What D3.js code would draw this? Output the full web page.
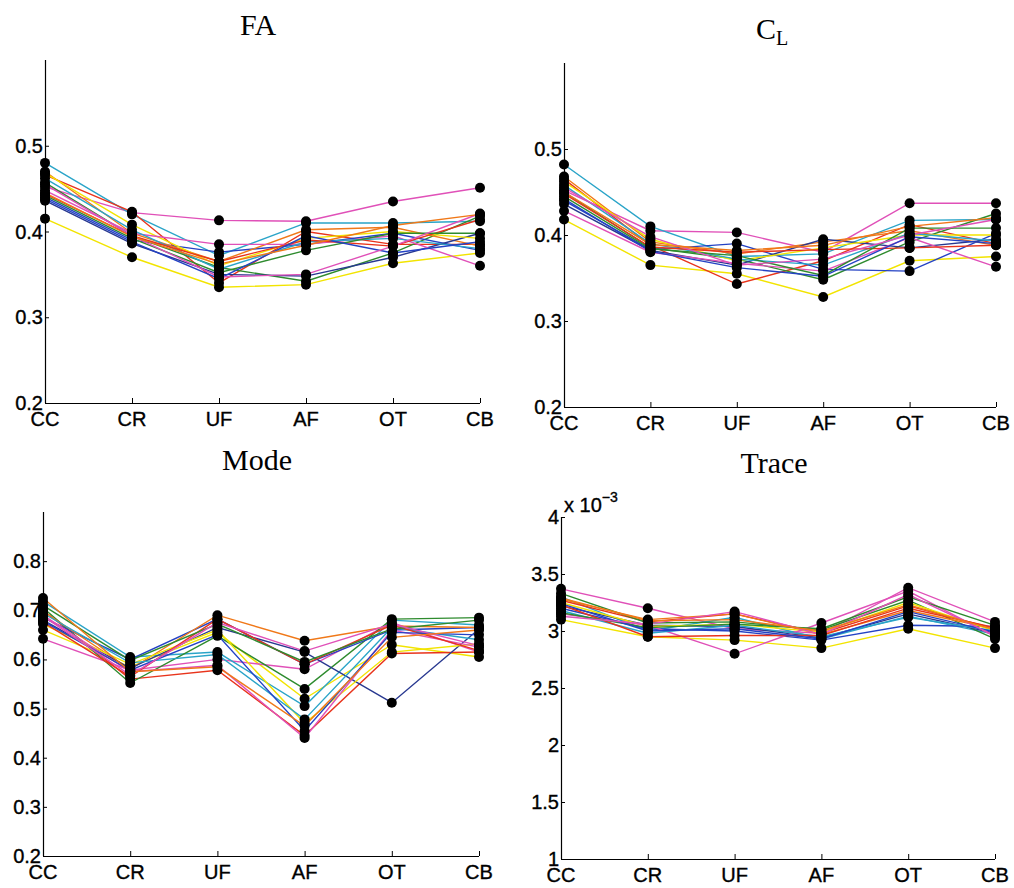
<!DOCTYPE html>
<html>
<head>
<meta charset="utf-8">
<script src="https://cdn.jsdelivr.net/npm/d3@7"></script>
<style>
  html, body { margin: 0; padding: 0; background: #fff; }
  svg { display: block; }
  .tick-label { font-family: "Liberation Sans", Arial, Helvetica, sans-serif; font-size: 20px; fill: #000; stroke: #000; stroke-width: 0.35px; }
  .title { font-family: "Liberation Serif", "Times New Roman", serif; fill: #000; }
</style>
</head>
<body>
<svg id="fig" width="1014" height="888"></svg>
<script>
// Regions along the x axis
const regions = ["CC", "CR", "UF", "AF", "OT", "CB"];

// One colour per subject
const subjectColors = [
  "#f2e400", "#e050b8", "#2aa4c8", "#e8341c", "#2e8b2e", "#2442c4", "#f07818", "#283890",
  "#f2e400", "#e050b8", "#2aa4c8", "#e8341c", "#2e8b2e", "#2442c4", "#e050b8", "#f07818"
];

// Fractional anisotropy per subject: CC, CR, UF, AF, OT, CB
const faValues = [
  [0.415, 0.370, 0.335, 0.338, 0.363, 0.375],
  [0.452, 0.422, 0.413, 0.412, 0.435, 0.451],
  [0.480, 0.420, 0.372, 0.410, 0.410, 0.412],
  [0.466, 0.423, 0.340, 0.400, 0.385, 0.385],
  [0.457, 0.395, 0.358, 0.342, 0.375, 0.418],
  [0.440, 0.390, 0.376, 0.385, 0.398, 0.378],
  [0.470, 0.398, 0.365, 0.402, 0.405, 0.383],
  [0.436, 0.386, 0.350, 0.348, 0.370, 0.398],
  [0.468, 0.408, 0.360, 0.392, 0.400, 0.392],
  [0.448, 0.398, 0.385, 0.385, 0.395, 0.360],
  [0.462, 0.402, 0.356, 0.388, 0.392, 0.380],
  [0.444, 0.395, 0.365, 0.390, 0.383, 0.414],
  [0.442, 0.392, 0.352, 0.378, 0.398, 0.398],
  [0.438, 0.388, 0.345, 0.395, 0.375, 0.388],
  [0.455, 0.395, 0.347, 0.350, 0.383, 0.421],
  [0.445, 0.394, 0.362, 0.384, 0.407, 0.420]
];

// Linear anisotropy C_L per subject
const clValues = [
  [0.418, 0.365, 0.355, 0.328, 0.370, 0.375],
  [0.452, 0.405, 0.403, 0.380, 0.437, 0.437],
  [0.482, 0.410, 0.375, 0.378, 0.417, 0.418],
  [0.465, 0.388, 0.343, 0.370, 0.412, 0.390],
  [0.450, 0.385, 0.372, 0.348, 0.392, 0.425],
  [0.440, 0.383, 0.390, 0.360, 0.358, 0.402],
  [0.468, 0.392, 0.378, 0.392, 0.405, 0.388],
  [0.436, 0.382, 0.365, 0.395, 0.385, 0.395],
  [0.462, 0.395, 0.370, 0.385, 0.400, 0.400],
  [0.428, 0.380, 0.367, 0.358, 0.397, 0.363],
  [0.458, 0.390, 0.372, 0.365, 0.402, 0.393],
  [0.448, 0.386, 0.380, 0.383, 0.385, 0.388],
  [0.445, 0.384, 0.376, 0.353, 0.408, 0.408],
  [0.442, 0.381, 0.362, 0.352, 0.398, 0.390],
  [0.455, 0.398, 0.365, 0.372, 0.400, 0.418],
  [0.450, 0.389, 0.382, 0.388, 0.410, 0.420]
];

// Tensor mode per subject
const modeValues = [
  [0.660, 0.585, 0.655, 0.520, 0.630, 0.605],
  [0.642, 0.578, 0.600, 0.580, 0.675, 0.615],
  [0.718, 0.605, 0.615, 0.505, 0.680, 0.670],
  [0.700, 0.560, 0.578, 0.445, 0.612, 0.615],
  [0.705, 0.552, 0.648, 0.540, 0.682, 0.685],
  [0.685, 0.600, 0.682, 0.590, 0.660, 0.665],
  [0.698, 0.580, 0.690, 0.638, 0.668, 0.665],
  [0.680, 0.582, 0.665, 0.615, 0.512, 0.662],
  [0.672, 0.590, 0.660, 0.470, 0.615, 0.632],
  [0.690, 0.575, 0.588, 0.440, 0.660, 0.625],
  [0.694, 0.593, 0.610, 0.478, 0.665, 0.640],
  [0.676, 0.565, 0.682, 0.590, 0.670, 0.618],
  [0.710, 0.598, 0.672, 0.595, 0.662, 0.680],
  [0.678, 0.578, 0.650, 0.455, 0.655, 0.650],
  [0.688, 0.568, 0.675, 0.617, 0.672, 0.628],
  [0.725, 0.575, 0.585, 0.465, 0.645, 0.660]
];

// Trace per subject, in units of 10^-3
const traceValues = [
  [3.10, 2.95, 2.92, 2.85, 3.02, 2.85],
  [3.37, 3.20, 3.02, 2.98, 3.38, 3.08],
  [3.30, 3.00, 3.12, 2.93, 3.13, 2.97],
  [3.27, 3.08, 3.15, 2.98, 3.22, 3.02],
  [3.33, 3.07, 3.08, 3.01, 3.27, 2.93],
  [3.20, 3.02, 3.00, 2.92, 3.05, 3.04],
  [3.28, 3.10, 3.15, 2.97, 3.18, 3.02],
  [3.22, 3.05, 3.04, 2.94, 3.15, 2.98],
  [3.25, 3.04, 3.06, 2.99, 3.25, 3.00],
  [3.15, 3.05, 2.80, 3.07, 3.35, 2.95],
  [3.18, 2.98, 3.05, 2.95, 3.12, 3.00],
  [3.23, 2.95, 2.96, 2.96, 3.20, 3.03],
  [3.16, 3.03, 3.06, 3.02, 3.30, 3.05],
  [3.24, 3.00, 3.02, 2.93, 3.17, 2.99],
  [3.13, 3.06, 3.17, 2.97, 3.32, 2.96],
  [3.29, 3.09, 3.10, 3.00, 3.23, 3.01]
];

// Tick labels for each panel
const faTicks = [0.2, 0.3, 0.4, 0.5];
const clTicks = [0.2, 0.3, 0.4, 0.5];
const modeTicks = [0.2, 0.3, 0.4, 0.5, 0.6, 0.7, 0.8];
const traceTicks = [1, 1.5, 2, 2.5, 3, 3.5, 4];

const svg = d3.select("#fig");

const panels = [
  { title: "FA", values: faValues, ticks: faTicks, domain: [0.2, 0.6], fmt: d3.format(".1f"),
    left: 45, right: 480, top: 60, bottom: 403, titleX: 258, titleY: 35 },
  { title: "C", sub: "L", values: clValues, ticks: clTicks, domain: [0.2, 0.6], fmt: d3.format(".1f"),
    left: 564, right: 996, top: 63, bottom: 407, titleX: 772, titleY: 39 },
  { title: "Mode", values: modeValues, ticks: modeTicks, domain: [0.2, 0.9], fmt: d3.format(".1f"),
    left: 43, right: 479, top: 512, bottom: 856, titleX: 257, titleY: 470 },
  { title: "Trace", values: traceValues, ticks: traceTicks, domain: [1, 4], fmt: d => String(d),
    left: 561, right: 995, top: 517, bottom: 859, titleX: 774, titleY: 473, exponent: "-3" }
];

panels.forEach(p => {
  const g = svg.append("g");
  const x = d3.scalePoint().domain(regions).range([p.left, p.right]);
  const y = d3.scaleLinear().domain(p.domain).range([p.bottom, p.top]);

  // Title
  const t = g.append("text").attr("class", "title")
    .attr("x", p.titleX).attr("y", p.titleY)
    .attr("text-anchor", "middle").style("font-size", "30px");
  t.append("tspan").text(p.title);
  if (p.sub) {
    t.append("tspan").text(p.sub).attr("dy", 6).style("font-size", "20px");
  }

  // y axis: ticks pointing inward, labels to the left
  const yAxis = d3.axisRight(y).tickValues(p.ticks).tickSize(4).tickFormat("");
  const ya = g.append("g").attr("transform", `translate(${p.left},0)`).call(yAxis);
  ya.select(".domain").attr("d", `M0.5,${p.top}V${p.bottom}`).attr("stroke", "#000").attr("stroke-width", 1.2);
  ya.selectAll(".tick line").attr("stroke", "#000");
  g.selectAll(null).data(p.ticks).enter().append("text")
    .attr("class", "tick-label")
    .attr("x", p.left - 2).attr("y", d => y(d))
    .attr("dy", "0.35em").attr("text-anchor", "end")
    .text(p.fmt);

  // x axis: ticks pointing up, labels below
  const xAxis = d3.axisTop(x).tickSize(5).tickFormat("");
  const xa = g.append("g").attr("transform", `translate(0,${p.bottom})`).call(xAxis);
  xa.select(".domain").attr("d", `M${p.left},0.5H${p.right}`).attr("stroke", "#000").attr("stroke-width", 1.2);
  xa.selectAll(".tick line").attr("stroke", "#000");
  g.selectAll(null).data(regions).enter().append("text")
    .attr("class", "tick-label")
    .attr("x", d => x(d)).attr("y", p.bottom + 23)
    .attr("text-anchor", "middle")
    .text(d => d);

  // Axis multiplier for the trace panel
  if (p.exponent) {
    const e = g.append("text").attr("class", "tick-label")
      .attr("x", p.left + 3).attr("y", p.top - 5);
    e.append("tspan").text("x 10");
    e.append("tspan").text("\u22123").attr("dy", -10).style("font-size", "14px");
  }

  // Subject profiles
  const line = d3.line().x((d, i) => x(regions[i])).y(d => y(d));
  g.append("g").selectAll("path").data(p.values).enter().append("path")
    .attr("d", line)
    .attr("fill", "none")
    .attr("stroke", (d, i) => subjectColors[i % subjectColors.length])
    .attr("stroke-width", 1.4);

  // Black markers at every measurement
  const pts = [];
  p.values.forEach(row => row.forEach((v, i) => pts.push({ r: regions[i], v })));
  g.append("g").selectAll("circle").data(pts).enter().append("circle")
    .attr("cx", d => x(d.r)).attr("cy", d => y(d.v))
    .attr("r", 5).attr("fill", "#000");
});
</script>
</body>
</html>
